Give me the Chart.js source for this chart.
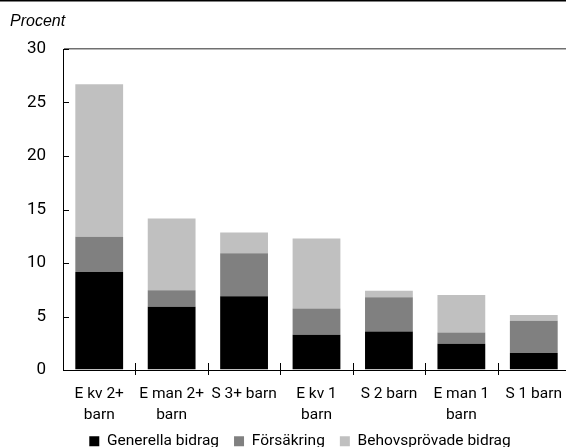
<!DOCTYPE html>
<html>
<head>
<meta charset="utf-8">
<script src="https://cdn.jsdelivr.net/npm/chart.js@4/dist/chart.umd.min.js"></script>
<style>
  html, body { margin: 0; padding: 0; background: #fff; overflow: hidden; }
  #wrap { position: relative; width: 566px; height: 447px; overflow: hidden; }
  canvas { display: block; }
</style>
</head>
<body>
<div id="wrap"><canvas id="c" width="600" height="459" style="width:600px;height:459px"></canvas></div>
<script>
// Household types
const categories = [
  ['E kv 2+', 'barn'],
  ['E man 2+', 'barn'],
  'S 3+ barn',
  ['E kv 1', 'barn'],
  'S 2 barn',
  ['E man 1', 'barn'],
  'S 1 barn'
];

// Share of income, percent, per transfer type
const generellaBidrag = [9.15, 5.9, 6.9, 3.3, 3.6, 2.45, 1.6];
const forsakring = [3.3, 1.55, 4.0, 2.45, 3.2, 1.05, 3.0];
const behovsprovadeBidrag = [14.25, 6.7, 1.95, 6.55, 0.6, 3.5, 0.55];

const seriesNames = ['Generella bidrag', 'Försäkring', 'Behovsprövade bidrag'];
const yTicks = [0, 5, 10, 15, 20, 25, 30];
const unitLabel = 'Procent';

const FONT = "Roboto, 'Liberation Sans', sans-serif";

// Frame details: top rule, unit label, inward y ticks and crossing x ticks
const framePlugin = {
  id: 'frame',
  afterDraw(chart) {
    const ctx = chart.ctx;
    const x = chart.scales.x, y = chart.scales.y;
    const area = chart.chartArea;
    ctx.save();
    ctx.fillStyle = '#000';
    ctx.fillRect(0, 0, chart.width, 1.5);

    ctx.font = "italic 16px 'Liberation Sans', Arial, sans-serif";
    ctx.textBaseline = 'middle';
    ctx.textAlign = 'left';
    ctx.fillText(unitLabel, 10, 22);

    ctx.strokeStyle = '#000';
    ctx.lineWidth = 1;
    yTicks.forEach(v => {
      if (v === 0) return;
      const py = Math.round(y.getPixelForValue(v)) + 0.5;
      ctx.beginPath();
      ctx.moveTo(area.left, py);
      ctx.lineTo(area.left + 6, py);
      ctx.stroke();
    });
    const half = (x.getPixelForValue(1) - x.getPixelForValue(0)) / 2;
    for (let i = 1; i < categories.length; i++) {
      const px = Math.round(x.getPixelForValue(i) - half) + 0.5;
      ctx.beginPath();
      ctx.moveTo(px, area.bottom - 7);
      ctx.lineTo(px, area.bottom + 5);
      ctx.stroke();
    }
    ctx.restore();
  }
};

new Chart(document.getElementById('c'), {
  type: 'bar',
  data: {
    labels: categories,
    datasets: [
      { label: seriesNames[0], data: generellaBidrag, backgroundColor: '#000000' },
      { label: seriesNames[1], data: forsakring, backgroundColor: '#808080' },
      { label: seriesNames[2], data: behovsprovadeBidrag, backgroundColor: '#c0c0c0' }
    ]
  },
  options: {
    responsive: false,
    animation: false,
    devicePixelRatio: 1,
    layout: { padding: { top: 49, left: 0, right: 0, bottom: 0 } },
    datasets: { bar: { categoryPercentage: 1, barPercentage: 0.66, borderWidth: 0 } },
    plugins: {
      tooltip: { enabled: false },
      legend: {
        position: 'bottom',
        labels: {
          boxWidth: 10,
          boxHeight: 10,
          padding: 15,
          color: '#000',
          font: { family: FONT, size: 15.5 }
        }
      }
    },
    scales: {
      x: {
        stacked: true,
        grid: { display: false, drawTicks: false },
        border: { color: '#000', width: 1 },
        ticks: {
          color: '#000',
          mirror: true,
          padding: -35,
          maxRotation: 0,
          autoSkip: false,
          font: { family: FONT, size: 15.5, lineHeight: 1.36 }
        },
        afterFit(scale) { scale.height = 48.5; }
      },
      y: {
        stacked: true,
        min: 0,
        max: 30,
        afterBuildTicks(scale) { scale.ticks = yTicks.map(v => ({ value: v })); },
        grid: {
          drawTicks: false,
          color: c => (c.tick && c.tick.value === 30 ? '#707070' : 'rgba(0,0,0,0)'),
          lineWidth: 1.5
        },
        border: { color: '#000', width: 1 },
        ticks: {
          color: '#000',
          padding: 17,
          font: { family: FONT, size: 17 }
        },
        afterFit(scale) { scale.width = 63; }
      },
      // empty right-hand axis that reserves the margin beyond the plot
      yRight: {
        position: 'right',
        display: true,
        grid: { display: false },
        border: { display: false },
        ticks: { display: false },
        afterFit(scale) { scale.width = 30; }
      }
    }
  },
  plugins: [framePlugin]
});
</script>
</body>
</html>
